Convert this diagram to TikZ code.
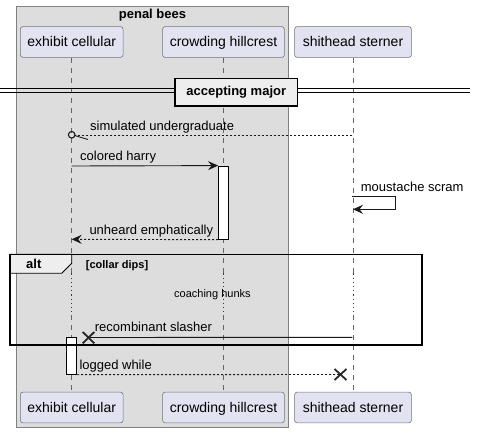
\documentclass[tikz,border=0pt]{standalone}
\usepackage{fontspec}
\setmainfont{Liberation Sans}
\usetikzlibrary{arrows.meta}
\definecolor{partfill}{HTML}{E2E2F0}
\definecolor{grpfill}{HTML}{DDDDDD}
\definecolor{tabfill}{HTML}{EEEEEE}
\definecolor{delayred}{HTML}{A80036}
\begin{document}
\begin{tikzpicture}[x=1pt,y=-1pt,
 part/.style={draw=black!55, fill=partfill, rounded corners=2.5pt, line width=0.6pt,
   minimum height=30.7pt, inner sep=0pt, text height=10pt, text depth=0pt,
   font=\fontsize{14}{16}\selectfont},
 life/.style={draw=black!60, dash pattern=on 5pt off 5pt, line width=0.5pt},
 delayline/.style={draw=delayred, dash pattern=on 1.2pt off 3pt, line width=1pt},
 msg/.style={draw=black!90, line width=0.9pt},
 ret/.style={msg, dash pattern=on 2pt off 2pt},
 tip/.style={-{Stealth[length=10pt,width=9pt,inset=3.5pt]}},
 lbl/.style={anchor=base west, inner sep=0pt, font=\fontsize{13}{15}\selectfont},
 act/.style={draw=black, fill=white, line width=0.8pt, inner sep=0pt, minimum width=10pt},
 xmark/.style={line width=1.8pt, draw=black!85},
]
\useasboundingbox (0,0) rectangle (477,433);

% group box
\draw[draw=black!50, fill=grpfill, line width=0.6pt] (16.7,6) rectangle (288.3,427.7);
\node[anchor=base, inner sep=0pt, font=\fontsize{13}{15}\selectfont\bfseries] (grp) at (152.5,18.5) {penal bees};

% participants
\node[part, minimum width=102.7pt] (ea) at (71.7,42) {exhibit cellular};
\node[part, minimum width=121.7pt] (ca) at (223.5,42) {crowding hillcrest};
\node[part, minimum width=116.7pt] (sa) at (353,42) {shithead sterner};
\node[part, minimum width=102.7pt] (eb) at (71.7,407.5) {exhibit cellular};
\node[part, minimum width=121.7pt] (cb) at (223.5,407.5) {crowding hillcrest};
\node[part, minimum width=116.7pt] (sb) at (353,407.5) {shithead sterner};

% lifelines
\foreach \p/\q in {ea/eb, ca/cb, sa/sb}{
  \draw[life] (\p.south) -- (\p.south |- 0,273.3);
  \draw[delayline] (\p.south |- 0,273.3) -- (\p.south |- 0,315);
  \draw[life] (\p.south |- 0,315) -- (\q.north);
}

% divider
\draw[line width=1pt] (0,89) -- (470,89);
\draw[line width=1pt] (0,92.5) -- (470,92.5);
\node[draw, line width=1.6pt, fill=tabfill, minimum width=122.7pt, minimum height=27.7pt,
  inner sep=0pt, font=\fontsize{13}{15}\selectfont\bfseries] (div) at (236.3,92.2) {accepting major};

% activations
\node[act, minimum height=73.3pt] (act1) at (223.5,202.65) {};
\node[act, minimum height=37pt] (act2) at (71.7,355.8) {};

% message coordinates
\coordinate (su1) at (352.3,135.3);
\coordinate (su2) at (75,135.3);
\coordinate (ch1) at (71.7,166);
\coordinate (ms1) at (352.3,196.7);
\coordinate (ms2) at (395.7,196.7);
\coordinate (ms3) at (395.7,209.3);
\coordinate (ms4) at (353,209.3);
\coordinate (rs1) at (352.3,337.3);
\coordinate (rs2) at (88.5,337.5);
\coordinate (lw2) at (340.5,374.5);

% simulated undergraduate
\draw[ret] (su1) -- (su2);
\draw[msg, line width=1.1pt] (71.7,134.8) circle (3.3pt);
\draw[msg] (75,135.6) -- (88,139.5);
\node[lbl] (t1) at (90,130.7) {simulated undergraduate};

% colored harry
\draw[msg, tip] (ch1) -- (act1.north west);
\node[lbl] (t2) at (80,161) {colored harry};

% moustache scram
\draw[msg, tip] (ms1) -- (ms2) -- (ms3) -- (ms4);
\node[lbl] (t3) at (360.7,191.7) {moustache scram};

% unheard emphatically
\draw[ret, tip] (act1.south west) -- (71.7,239.3);
\node[lbl] (t4) at (89.3,234.5) {unheard emphatically};

% alt frame
\draw[fill=tabfill, line width=0.8pt] (10,254.3) -- (71.7,254.3) -- (71.7,263.3) -- (61.7,273.3) -- (10,273.3) -- cycle;
\draw[line width=1.5pt] (10,254.3) rectangle (422,345);
\node[lbl, font=\fontsize{13}{15}\selectfont\bfseries] (alt) at (26,268.3) {alt};
\node[lbl, font=\fontsize{11}{13}\selectfont\bfseries] (cond) at (85.7,268) {[collar dips]};
\node[lbl, font=\fontsize{11}{13}\selectfont] (delay) at (174,297.3) {coaching hunks};

% recombinant slasher
\draw[msg] (rs1) -- (rs2);
\draw[xmark] (82.7,332) -- (94.3,343.3) (82.7,343.3) -- (94.3,332);
\node[lbl] (t5) at (94.7,331) {recombinant slasher};

% logged while
\draw[ret] (act2.south east) -- (lw2);
\draw[xmark] (334.5,369) -- (346.5,380) (334.5,380) -- (346.5,369);
\node[lbl] (t6) at (79.3,369) {logged while};
\end{tikzpicture}
\end{document}
